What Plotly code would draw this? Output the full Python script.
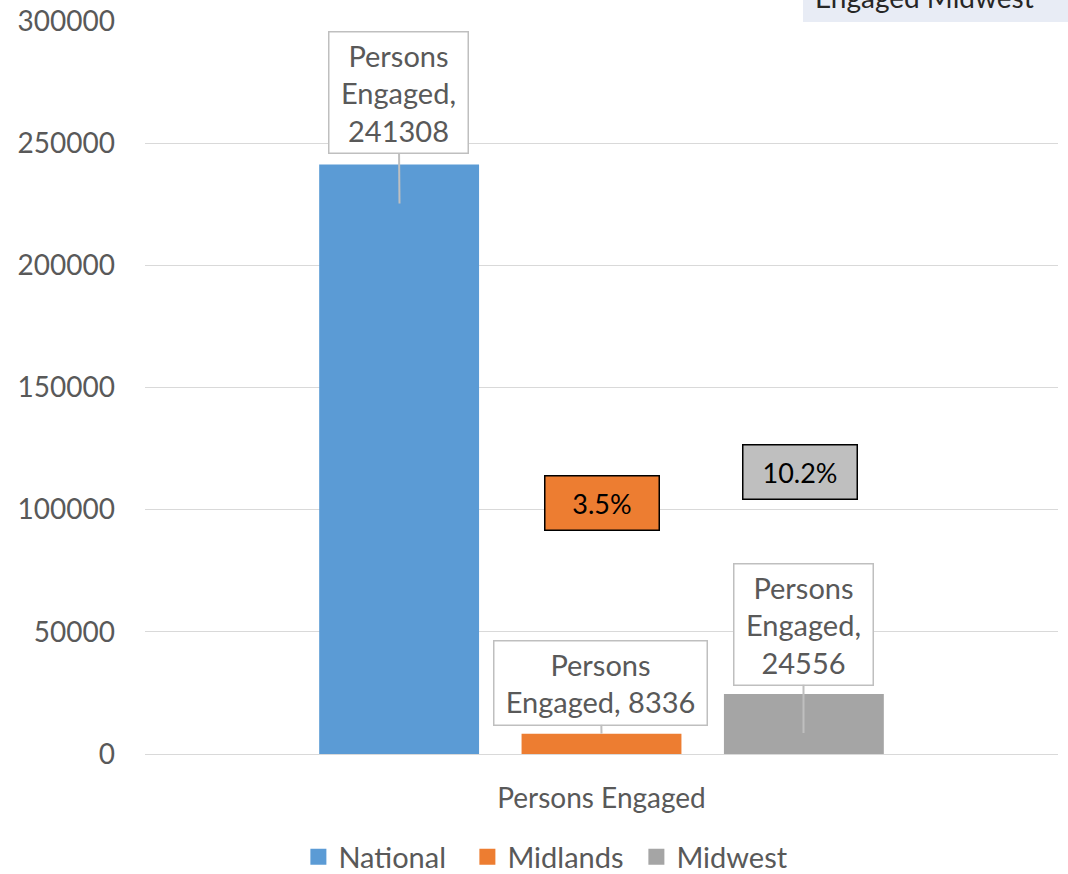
import plotly.graph_objects as go

category = "Persons Engaged"
series = ["National", "Midlands", "Midwest"]
values = [241308, 8336, 24556]
colors = ["#5B9BD5", "#ED7D31", "#A5A5A5"]
callout_texts = ["Persons<br>Engaged,<br>241308", "Persons<br>Engaged, 8336", "Persons<br>Engaged,<br>24556"]
pct_labels = ["3.5%", "10.2%"]
pct_colors = ["#ED7D31", "#BFBFBF"]
y_ticks = [0, 50000, 100000, 150000, 200000, 250000, 300000]

FONT = "Lato"
GREY = "#595959"

fig = go.Figure()
for name, v, c in zip(series, values, colors):
    fig.add_trace(go.Bar(name=name, x=[category], y=[v], marker_color=c,
                         marker_line_width=0, showlegend=False))
# legend entries with larger square swatches
for name, c in zip(series, colors):
    fig.add_trace(go.Scatter(name=name, x=[None], y=[None], mode="markers",
                             marker=dict(symbol="square", size=18, color=c),
                             showlegend=True))

# callout annotations (box offsets in pixels)
slot = 202
callout_style = [
    dict(xshift=-slot, ax=-1, ay=-111, tipshift=-39, width=128),
    dict(xshift=0, ax=-1, ay=-51, tipshift=0, width=202),
    dict(xshift=slot, ax=0, ay=-109, tipshift=-39, width=128),
]
for v, t, s in zip(values, callout_texts, callout_style):
    fig.add_annotation(x=category, y=v, text=t, xshift=s["xshift"], yshift=s["tipshift"],
                       showarrow=True, arrowhead=0, arrowwidth=2, arrowcolor="#BFBFBF",
                       ax=s["ax"], ay=s["ay"], standoff=0,
                       bgcolor="white", bordercolor="#BFBFBF", borderwidth=1.5, borderpad=5,
                       width=s["width"], align="center",
                       font=dict(family=FONT, size=29, color=GREY))

# percentage boxes
pct_pos = [dict(xshift=0, y=0.3424), dict(xshift=slot - 4, y=0.3847)]
for t, c, p in zip(pct_labels, pct_colors, pct_pos):
    fig.add_annotation(x=category, xref="x", yref="paper", y=p["y"], xshift=p["xshift"],
                       text=t, showarrow=False, bgcolor=c, bordercolor="black",
                       borderwidth=1.5, borderpad=0, width=113, height=53,
                       xanchor="center", yanchor="middle",
                       font=dict(family=FONT, size=27, color="black"))

# cut-off text box at top right
fig.add_shape(type="rect", xref="paper", yref="paper", x0=0.7207, x1=1.2, y0=0.9986, y1=1.2,
              fillcolor="#E8ECF5", line_width=0, layer="above")
fig.add_annotation(xref="paper", yref="paper", x=0.854, y=1.0327, text="Engaged Midwest",
                   showarrow=False, xanchor="center", yanchor="middle",
                   font=dict(family=FONT, size=28, color="#262626"))

fig.update_layout(
    width=1068, height=874,
    margin=dict(l=145, r=10, t=21, b=120, autoexpand=False),
    paper_bgcolor="white", plot_bgcolor="white",
    barmode="group", bargap=0.335, bargroupgap=0.21,
    font=dict(family=FONT, size=28, color=GREY),
    showlegend=True,
    legend=dict(orientation="h", x=0.168, xanchor="left", yref="container", y=0.0195,
                yanchor="middle", font=dict(family=FONT, size=29, color=GREY),
                itemwidth=30, tracegroupgap=0, entrywidth=124),
    xaxis=dict(showgrid=False, showline=True, linecolor="#D9D9D9", linewidth=1,
               ticks="", automargin=False, ticklabelstandoff=19,
               tickfont=dict(family=FONT, size=28, color=GREY)),
    yaxis=dict(range=[0, 300000], tickvals=y_ticks, ticktext=[str(t) for t in y_ticks],
               showgrid=True, gridcolor="#D9D9D9", gridwidth=1, zeroline=True,
               zerolinecolor="#D9D9D9", zerolinewidth=1, showline=False, ticks="",
               automargin=False, ticklabelstandoff=29,
               tickfont=dict(family=FONT, size=28, color=GREY)),
)

fig.write_html("out.html", config={"displayModeBar": False},
               post_script="document.body.style.margin='0';")
